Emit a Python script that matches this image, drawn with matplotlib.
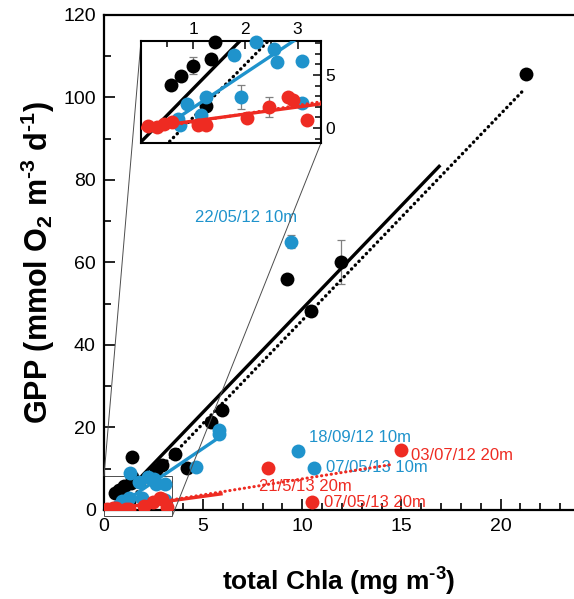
import matplotlib
matplotlib.use('Agg')
import matplotlib.pyplot as plt
from matplotlib.ticker import MultipleLocator
from mpl_toolkits.axes_grid1.inset_locator import mark_inset

plt.rcParams['font.family'] = ['Liberation Sans', 'DejaVu Sans']
plt.rcParams['mathtext.default'] = 'regular'

BLACK = '#000000'
BLUE = '#1f93cc'
RED = '#ee2b22'
GREY = '#808080'

# --- data ---
black_x = [0.57, 0.76, 0.99, 1.34, 1.41, 1.25, 1.39, 2.6, 2.9, 3.6, 4.2,
           5.37, 5.96, 9.22, 10.43, 11.94, 21.26]
black_y = [4.06, 4.9, 5.85, 6.5, 8.1, 2.08, 12.9, 9.6, 10.8, 13.6, 10.1,
           21.4, 24.2, 56.0, 48.2, 60.1, 105.7]

blue_x = [2.2, 1.78, 2.54, 2.61, 3.09, 1.91, 1.25, 0.89, 1.15, 0.71, 3.09,
          0.75, 1.31, 4.62, 5.79, 5.82, 9.42, 9.77, 10.58]
blue_y = [8.1, 6.9, 7.4, 6.25, 6.35, 2.95, 2.95, 2.26, 1.2, 0.9, 2.33,
          0.3, 8.9, 10.5, 19.4, 18.3, 65.0, 14.3, 10.2]

red_x = [0.14, 0.3, 0.45, 0.6, 1.09, 1.25, 2.04, 2.45, 2.82, 2.92, 3.18,
         8.26, 10.48, 14.96]
red_y = [0.19, 0.1, 0.38, 0.6, 0.28, 0.28, 0.91, 1.95, 2.95, 2.6, 0.75,
         10.2, 1.9, 14.5]

# error bars (x, y, half-range)
err_x = [0.99, 11.94, 9.42, 1.91, 2.45]
err_y = [5.85, 60.1, 65.0, 2.95, 1.95]
err_e = [0.8, 5.4, 1.6, 1.15, 0.95]

# fitted lines (end points)
black_fit_x, black_fit_y = [0.0, 16.9], [-1.3, 83.3]
black_dot_x, black_dot_y = [0.55, 21.1], [-1.25, 101.5]
blue_fit_x, blue_fit_y = [0.64, 5.9], [0.75, 17.9]
red_fit_x, red_fit_y = [0.0, 5.9], [0.0, 3.9]
red_dot_x, red_dot_y = [0.5, 14.6], [0.2, 11.1]

labels = [
    ('22/05/12 10m', 4.58, 70.8, BLUE),
    ('18/09/12 10m', 10.33, 17.5, BLUE),
    ('07/05/13 10m', 11.18, 10.4, BLUE),
    ('03/07/12 20m', 15.47, 13.1, RED),
    ('21/5/13 20m', 7.81, 5.6, RED),
    ('07/05/13 20m', 11.08, 1.9, RED),
]

INSET_XLIM = (0, 3.45)
INSET_YLIM = (-1.4, 8.2)

DOTS = (0, (0.1, 1.5))


def draw(a, ms, inset=False):
    def keep(xs, ys):
        if not inset:
            return xs, ys
        pts = [(x, y) for x, y in zip(xs, ys)
               if INSET_XLIM[0] <= x <= INSET_XLIM[1] and INSET_YLIM[0] <= y <= INSET_YLIM[1]]
        return [p[0] for p in pts], [p[1] for p in pts]

    ex, ey = keep(err_x, err_y)
    ee = [e for x, y, e in zip(err_x, err_y, err_e) if (x, y) in zip(ex, ey)]
    a.errorbar(ex, ey, yerr=ee, fmt='none', ecolor=GREY, elinewidth=0.9,
               capsize=3, capthick=0.9, zorder=1)

    a.plot(black_fit_x, black_fit_y, color=BLACK, lw=2.4, zorder=2)
    a.plot(black_dot_x, black_dot_y, color=BLACK, lw=2.4, ls=DOTS,
           dash_capstyle='round', zorder=2)
    x, y = keep(black_x, black_y)
    a.plot(x, y, 'o', color=BLACK, ms=ms, mec='none', zorder=3, clip_on=not inset)

    a.plot(blue_fit_x, blue_fit_y, color=BLUE, lw=2.4, zorder=4)
    x, y = keep(blue_x, blue_y)
    a.plot(x, y, 'o', color=BLUE, ms=ms, mec='none', zorder=5, clip_on=not inset)

    a.plot(red_fit_x, red_fit_y, color=RED, lw=2.4, zorder=6)
    a.plot(red_dot_x, red_dot_y, color=RED, lw=2.2, ls=DOTS,
           dash_capstyle='round', zorder=6)
    x, y = keep(red_x, red_y)
    a.plot(x, y, 'o', color=RED, ms=ms, mec='none', zorder=7, clip_on=not inset)


fig = plt.figure(figsize=(5.74, 5.99), dpi=100)
ax = fig.add_axes([0.1812, 0.1486, 0.8188, 0.8264])
draw(ax, 10)

for txt, x, y, c in labels:
    ax.text(x, y, txt, color=c, fontsize=12, ha='left', va='center', zorder=5)

ax.set_xlim(0, 23.7)
ax.set_ylim(0, 120)
ax.xaxis.set_major_locator(MultipleLocator(5))
ax.xaxis.set_minor_locator(MultipleLocator(1))
ax.yaxis.set_major_locator(MultipleLocator(20))
ax.yaxis.set_minor_locator(MultipleLocator(10))
ax.tick_params(which='both', direction='in', width=1.2, labelsize=14, pad=6)
ax.tick_params(which='major', length=8)
ax.tick_params(which='minor', length=5)
ax.spines['right'].set_visible(False)
for s in ('left', 'bottom', 'top'):
    ax.spines[s].set_linewidth(1.6)

HY = '\u2010'
ax.set_xlabel('total Chla (mg m$^{' + HY + '3}$)', fontsize=19, fontweight='bold',
              labelpad=22)
ax.set_ylabel('GPP (mmol O$_{2}$ m$^{' + HY + '3}$ d$^{' + HY + '1}$)', fontsize=22,
              fontweight='bold', labelpad=4)

axins = fig.add_axes([0.2456, 0.7613, 0.3136, 0.1703])
draw(axins, 10, inset=True)
axins.set_xlim(*INSET_XLIM)
axins.set_ylim(*INSET_YLIM)
axins.xaxis.tick_top()
axins.yaxis.tick_right()
axins.xaxis.set_major_locator(MultipleLocator(1))
axins.xaxis.set_minor_locator(MultipleLocator(0.5))
axins.yaxis.set_major_locator(MultipleLocator(5))
axins.yaxis.set_minor_locator(MultipleLocator(1))
axins.tick_params(which='both', direction='in', width=1.1, labelsize=12.5, pad=3)
axins.tick_params(which='major', length=6)
axins.tick_params(which='minor', length=4)
axins.set_xticks([1, 2, 3])
axins.set_yticks([0, 5])
for s in axins.spines.values():
    s.set_linewidth(1.5)

pp, p1, p2 = mark_inset(ax, axins, loc1=2, loc2=4, fc='none', ec='0.3', lw=0.7)
pp.set_clip_on(False)

fig.savefig('out.png', dpi=100)
